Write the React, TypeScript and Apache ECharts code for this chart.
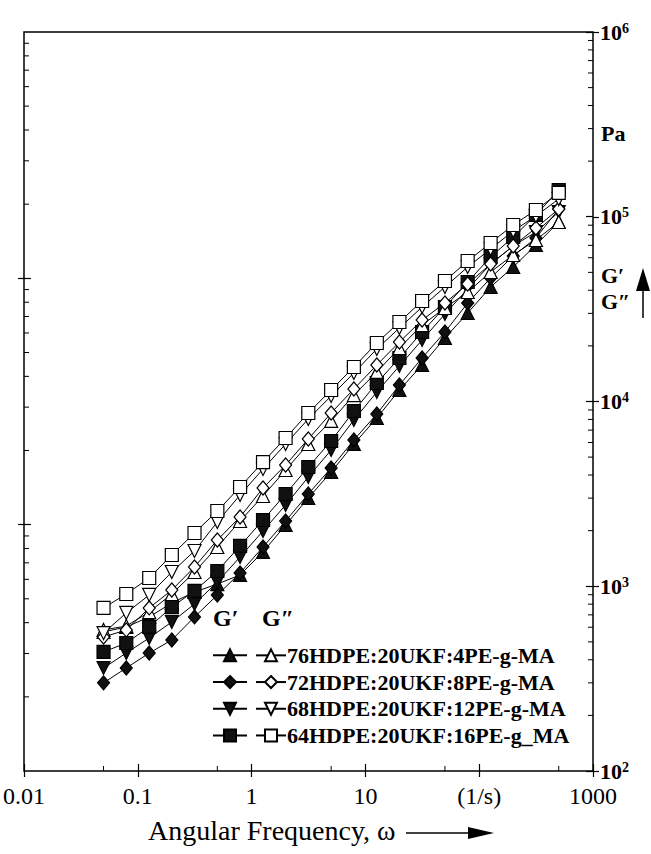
import React, { useEffect, useRef } from 'react';
import * as echarts from 'echarts';

// Angular frequency (1/s)
const freq = [0.05, 0.0792, 0.126, 0.199, 0.315, 0.5, 0.792, 1.26, 1.99, 3.15, 5, 7.92, 12.6, 19.9, 31.5, 50, 79.2, 126, 199, 315, 500];

// G' (storage modulus, filled symbols), Pa
const gp76 = [566, 602, 682, 812, 931, 1028, 1151, 1533, 2145, 3004, 4153, 5888, 8141, 11540, 15760, 22060, 30130, 41670, 53460, 70330, 93670];
const gp72 = [300, 361, 435, 512, 682, 897, 1180, 1631, 2255, 3157, 4366, 6189, 8556, 12280, 17200, 23780, 34120, 46610, 61320, 76740, 110100];
const gp68 = [361, 435, 525, 641, 801, 1054, 1440, 1991, 2753, 3902, 5464, 7941, 11260, 15570, 21520, 29760, 40630, 55490, 69460, 82700, 106100];
const gp64 = [441, 493, 602, 772, 943, 1209, 1652, 2283, 3157, 4420, 6113, 8884, 12590, 17200, 23780, 32470, 44340, 60560, 77690, 102200, 139600];

// G'' (loss modulus, open symbols), Pa
const gpp76 = [580, 609, 725, 908, 1194, 1631, 2255, 3080, 4258, 5888, 7845, 10840, 14450, 19480, 25950, 32070, 39150, 50220, 62090, 74860, 93670];
const gpp72 = [531, 580, 763, 954, 1271, 1780, 2370, 3402, 4532, 6266, 8665, 11690, 15760, 20990, 27610, 34120, 43250, 55490, 69460, 86910, 110100];
const gpp68 = [558, 717, 897, 1194, 1552, 2227, 3119, 4311, 5888, 8041, 10710, 14270, 19240, 24990, 32470, 41670, 53460, 66920, 83730, 100900, 124700];
const gpp64 = [763, 908, 1108, 1476, 1942, 2555, 3445, 4703, 6345, 8665, 11540, 15370, 20730, 26930, 34990, 44890, 57610, 72100, 90210, 108800, 134500];

const names = ['76HDPE:20UKF:4PE-g-MA', '72HDPE:20UKF:8PE-g-MA', '68HDPE:20UKF:12PE-g-MA', '64HDPE:20UKF:16PE-g_MA'];
const xTickLabels = ['0.01', '0.1', '1', '10', '(1/s)', '1000'];
const xMinorTicks = [0.05, 0.5, 5, 50, 500];
const yMinorMultipliers = [2, 3, 4, 5, 6, 7, 8, 9];

const FONT = "'Liberation Serif', 'Times New Roman', serif";

export default function App() {
  const ref = useRef<HTMLDivElement>(null);
  useEffect(() => {
    if (!ref.current) return;
    const chart = echarts.init(ref.current, null, { renderer: 'svg' });

    const symbols = [
      { symbol: 'triangle', rotate: 0, size: 13 },
      { symbol: 'diamond', rotate: 0, size: [12, 14] },
      { symbol: 'triangle', rotate: 180, size: 13 },
      { symbol: 'rect', rotate: 0, size: 13 },
    ];
    const gps = [gp76, gp72, gp68, gp64];
    const gpps = [gpp76, gpp72, gpp68, gpp64];

    const mk = (arr: number[], i: number, filled: boolean, name: string) => ({
      type: 'line',
      name,
      xAxisIndex: 0,
      yAxisIndex: 0,
      data: freq.map((f, j) => [f, arr[j]]),
      symbol: symbols[i].symbol,
      symbolRotate: symbols[i].rotate,
      symbolSize: symbols[i].size,
      showSymbol: true,
      lineStyle: { color: '#000', width: 1 },
      itemStyle: { color: filled ? '#111' : '#fff', borderColor: '#000', borderWidth: 1.2 },
      emphasis: { disabled: true },
    });

    const gpNames = names.map((n) => n + ' G′');
    const series: any[] = [];
    gps.forEach((a, i) => series.push(mk(a, i, true, gpNames[i])));
    gpps.forEach((a, i) => series.push(mk(a, i, false, names[i])));

    const helper = (extra: any) => ({
      type: 'value',
      axisLine: { show: false, onZero: false },
      axisLabel: { show: false },
      splitLine: { show: false },
      ...extra,
    });

    const baseGraphic: any[] = [
      { type: 'text', left: 213, top: 606, style: { text: 'G′', font: `bold 24px ${FONT}`, fill: '#000' } },
      { type: 'text', left: 262, top: 606, style: { text: 'G″', font: `bold 24px ${FONT}`, fill: '#000' } },
      { type: 'text', left: 601, top: 122, style: { text: 'Pa', font: `bold 22px ${FONT}`, fill: '#000' } },
      { type: 'text', left: 601, top: 264, style: { text: 'G′', font: `bold 22px ${FONT}`, fill: '#000' } },
      { type: 'text', left: 601, top: 290, style: { text: 'G″', font: `bold 22px ${FONT}`, fill: '#000' } },
      { type: 'line', shape: { x1: 643, y1: 288, x2: 643, y2: 318 }, style: { stroke: '#000', lineWidth: 1.5 } },
      { type: 'polygon', shape: { points: [[643, 268], [636, 291], [650, 291]] }, style: { fill: '#000' } },
      { type: 'text', left: 148, top: 816, style: { text: 'Angular Frequency, ω', font: `28px ${FONT}`, fill: '#000' } },
      { type: 'line', shape: { x1: 406, y1: 833, x2: 472, y2: 833 }, style: { stroke: '#000', lineWidth: 1.5 } },
      { type: 'polygon', shape: { points: [[468, 827], [494, 833], [468, 839]] }, style: { fill: '#000' } },
    ];

    chart.setOption({
      animation: false,
      backgroundColor: '#fff',
      grid: { left: 20, right: 58, top: 32, bottom: 83, show: true, borderColor: '#000', borderWidth: 1.5 },
      xAxis: [
        {
          type: 'log', logBase: 10, min: 0.01, max: 1000, position: 'bottom',
          axisLine: { show: false, onZero: false },
          axisTick: { show: true, inside: true, length: 7, lineStyle: { color: '#000', width: 1.2 } },
          splitLine: { show: false },
          axisLabel: {
            formatter: (v: number) => xTickLabels[Math.round(Math.log10(v)) + 2],
            fontFamily: FONT, fontSize: 24, color: '#000', margin: 13,
          },
        },
        helper({ min: -2, max: 3, position: 'bottom', axisTick: { show: true, inside: false, length: 6, customValues: [-2, -1, 0, 1, 2, 3], lineStyle: { color: '#000', width: 1.2 } } }),
      ],
      yAxis: [
        {
          type: 'log', logBase: 10, min: 100, max: 1000000, position: 'right',
          axisLine: { show: false, onZero: false },
          axisTick: { show: true, inside: true, length: 7, lineStyle: { color: '#000', width: 1.2 } },
          splitLine: { show: false },
          axisLabel: {
            margin: 7,
            formatter: (v: number) => `{b|10}{s|${Math.round(Math.log10(v))}}`,
            rich: {
              b: { fontFamily: FONT, fontSize: 22, fontWeight: 'bold', color: '#000', lineHeight: 22 },
              s: { fontFamily: FONT, fontSize: 14, fontWeight: 'bold', color: '#000', lineHeight: 14, verticalAlign: 'top' },
            },
          },
        },
        helper({ min: 2, max: 6, position: 'right', axisTick: { show: true, inside: false, length: 6, customValues: [2, 3, 4, 5, 6], lineStyle: { color: '#000', width: 1.2 } } }),
        helper({ min: 0, max: 3, position: 'left', axisTick: { show: true, inside: true, length: 7, customValues: [1, 2], lineStyle: { color: '#000', width: 1.2 } } }),
        helper({ min: 0, max: 3, position: 'left', axisTick: { show: true, inside: false, length: 6, customValues: [1, 2], lineStyle: { color: '#000', width: 1.2 } } }),
      ],
      legend: [
        {
          data: gpNames, orient: 'vertical', left: 212, top: 642, padding: 0,
          itemWidth: 34, itemHeight: 15, itemGap: 0, selectedMode: false,
          formatter: () => ' ',
          textStyle: { fontFamily: FONT, fontSize: 22, lineHeight: 26.7, color: '#000' },
        },
        {
          data: names, orient: 'vertical', left: 255, top: 642, padding: 0,
          itemWidth: 30, itemHeight: 15, itemGap: 0, selectedMode: false,
          textStyle: { fontFamily: FONT, fontSize: 22, fontWeight: 'bold', lineHeight: 26.7, color: '#000', padding: [0, 0, 0, -4] },
        },
      ],
      graphic: baseGraphic,
      series,
    });

    // Minor ticks, positioned through the chart's own axis scales
    const tickEls: any[] = [];
    const tickStyle = { stroke: '#000', lineWidth: 1 };
    xMinorTicks.forEach((v) => {
      const p = chart.convertToPixel({ xAxisIndex: 0, yAxisIndex: 0 }, [v, 100]) as number[];
      if (p) tickEls.push({ type: 'line', shape: { x1: p[0], y1: p[1], x2: p[0], y2: p[1] - 5 }, style: tickStyle });
    });
    for (let n = 2; n <= 5; n++) {
      yMinorMultipliers.forEach((k) => {
        const p = chart.convertToPixel({ xAxisIndex: 0, yAxisIndex: 0 }, [1000, k * Math.pow(10, n)]) as number[];
        if (p) tickEls.push({ type: 'line', shape: { x1: p[0], y1: p[1], x2: p[0] - 5, y2: p[1] }, style: tickStyle });
      });
    }
    const xLeft = (chart.convertToPixel({ xAxisIndex: 0 }, 0.01) as number);
    for (let n = 0; n <= 2; n++) {
      yMinorMultipliers.forEach((k) => {
        const y = chart.convertToPixel({ yAxisIndex: 2 }, n + Math.log10(k)) as number;
        if (typeof y === 'number' && !isNaN(y)) tickEls.push({ type: 'line', shape: { x1: xLeft, y1: y, x2: xLeft + 5, y2: y }, style: tickStyle });
      });
    }
    chart.setOption({ graphic: [...baseGraphic, ...tickEls] });

    return () => chart.dispose();
  }, []);
  return <div ref={ref} style={{ position: 'absolute', left: 0, top: 0, width: 651, height: 854 }} />;
}
